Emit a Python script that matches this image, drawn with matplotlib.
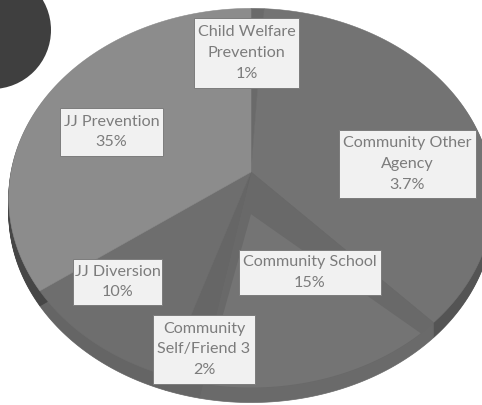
import numpy as np
import matplotlib
matplotlib.use("Agg")
import matplotlib.pyplot as plt
from matplotlib.patches import Circle, Rectangle

categories = ["Child Welfare\nPrevention", "Community Other\nAgency", "Community School",
              "Community\nSelf/Friend 3", "JJ Diversion", "JJ Prevention"]
values = [1, 37, 15, 2, 10, 35]
label_values = ["1%", "3.7%", "15%", "2%", "10%", "35%"]
top_colors = ["#6a6a6a", "#737373", "#696969", "#666666", "#6e6e6e", "#8c8c8c"]
rim_colors = ["#555555", "#545454", "#6a6a6a", "#666666", "#656565", "#464646"]
# label boxes as left, top, right, bottom in image pixels
boxes = [(194, 18, 299, 88), (339, 130, 476, 198), (239, 250, 381, 295),
         (153, 315, 255, 384), (73, 259, 162, 305), (60, 108, 163, 156)]

CX, CY, A, B, K, DEPTH = 251, 172, 240, 186, 0.137, 15


def project(x, y, dy=0):
    d = 1 + K * y
    return CX + A * x / d, CY - B * y / d + dy


def wedge(start, stop, dy=0, apex_y=0.0):
    t = np.radians(np.linspace(start, stop, max(int(stop - start) * 2, 4)))
    xs = np.r_[0, np.sin(t)]
    ys = np.r_[apex_y, np.cos(t)]
    return project(xs, ys, dy)


fig = plt.figure(figsize=(4.82, 4.05), dpi=100, facecolor="white")
ax = fig.add_axes([0, 0, 1, 1])
ax.set_xlim(0, 482)
ax.set_ylim(405, 0)
ax.axis("off")

ax.add_patch(Circle((-8, 30), 59, color="#3f3f3f", lw=0, zorder=5))

edges = np.r_[0, np.cumsum(values)] * 3.6
for i in range(len(values)):
    for dy in np.arange(DEPTH, 0, -1.0):
        x, y = wedge(edges[i], edges[i + 1], dy=dy)
        ax.fill(x, y, color=rim_colors[i], lw=0.5, zorder=1)
for i in range(len(values)):
    x, y = wedge(edges[i], edges[i + 1])
    ax.fill(x, y, color=top_colors[i], lw=0.4, zorder=2)

# lighter inner face of the Community School slice, leaving a dark band around it
x, y = wedge(edges[2] + 4, edges[3] - 1, apex_y=-0.22)
ax.fill(x, y, color="#747474", lw=0, zorder=3)

for name, pct, (l, t, r, b) in zip(categories, label_values, boxes):
    ax.add_patch(Rectangle((l, t), r - l, b - t, facecolor="#f1f1f1",
                           edgecolor="#7c7c7c", lw=0.7, zorder=6))
    ax.text((l + r) / 2, (t + b) / 2, f"{name}\n{pct}", ha="center", va="center",
            family="Lato", fontsize=11.6, color="#7c7c7c", linespacing=1.6, zorder=7)

fig.savefig("out.png", dpi=100)
